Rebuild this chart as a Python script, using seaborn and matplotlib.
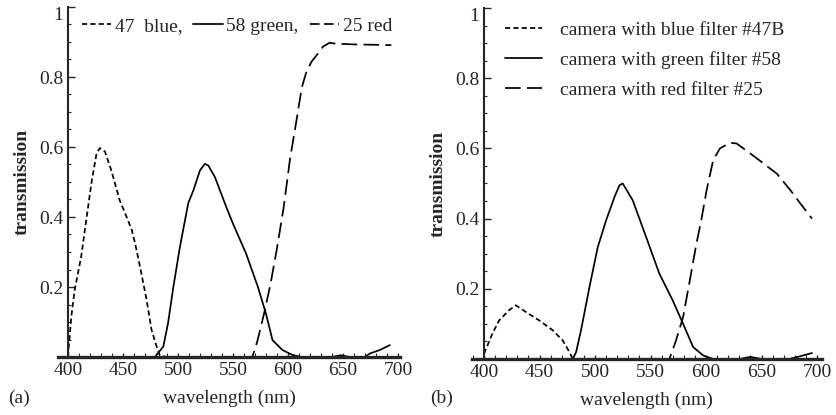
import numpy as np
import pandas as pd
import matplotlib
matplotlib.use("Agg")
import matplotlib.pyplot as plt
from matplotlib.lines import Line2D
from matplotlib.ticker import MultipleLocator, FixedLocator
import seaborn as sns

# panel (a): filter transmission
a_blue_x = [400, 403, 406, 412, 417, 421.5, 426, 429, 433.6, 439.7, 447, 452, 458, 461, 465.5,
            471.5, 476, 480.6, 483.6, 490, 550, 650, 695]
a_blue_y = [0.0, 0.115, 0.19, 0.287, 0.40, 0.501, 0.582, 0.597, 0.587, 0.53, 0.448, 0.41, 0.363,
            0.325, 0.258, 0.163, 0.077, 0.030, 0.004, 0.0, 0.0, 0.0, 0.0]

a_green_x = [400, 450, 479, 486.7, 491, 495.8, 501.8, 509.4, 514, 520, 524.5, 527.6, 533.6, 544,
             550, 562, 572.7, 580, 586, 595, 604, 612, 640, 648, 656, 670, 674.5, 683.6, 692.7]
a_green_y = [0.0, 0.0, 0.0, 0.030, 0.097, 0.20, 0.315, 0.44, 0.476, 0.533, 0.552, 0.547, 0.514,
             0.428, 0.381, 0.295, 0.20, 0.124, 0.048, 0.02, 0.006, 0.0, 0.0, 0.005, 0.0, 0.0,
             0.01, 0.02, 0.034]

a_red_x = [400, 480, 555, 567.6, 572, 578, 584, 590, 596, 602, 608, 612.6, 617, 621.5, 627.6,
           632, 638, 641, 660, 680, 694]
a_red_y = [0.0, 0.0, 0.0, 0.0, 0.043, 0.12, 0.206, 0.31, 0.425, 0.568, 0.68, 0.77, 0.817, 0.844,
           0.868, 0.887, 0.898, 0.896, 0.893, 0.892, 0.891]

# panel (b): camera x filter
b_blue_x = [400, 407.5, 413.6, 422.6, 428.6, 437.7, 449.7, 461.8, 470.9, 476.9, 480, 500, 600, 695]
b_blue_y = [0.015, 0.072, 0.11, 0.139, 0.153, 0.134, 0.11, 0.082, 0.053, 0.02, 0.0, 0.0, 0.0, 0.0]

b_green_x = [400, 450, 480, 483, 487.4, 495, 502.5, 510, 517.6, 522, 525, 534, 546, 558, 570,
             579.4, 588.4, 597.5, 606.5, 630, 640, 650, 675, 685, 695.5]
b_green_y = [0.0, 0.0, 0.0, 0.02, 0.082, 0.205, 0.319, 0.395, 0.462, 0.495, 0.5, 0.452, 0.348,
             0.243, 0.167, 0.10, 0.034, 0.01, 0.0, 0.0, 0.006, 0.0, 0.0, 0.008, 0.017]

b_red_x = [400, 480, 567, 573, 579.4, 585.4, 591.4, 596, 600.5, 606.5, 612.6, 621.6, 627.6,
           639.7, 651.8, 663.8, 676, 685, 695.5]
b_red_y = [0.0, 0.0, 0.0, 0.053, 0.12, 0.224, 0.329, 0.40, 0.48, 0.567, 0.60, 0.616, 0.614,
           0.586, 0.557, 0.528, 0.481, 0.443, 0.40]

a_labels = ["47  blue,", "58 green,", "25 red"]
b_labels = ["camera with blue filter #47B", "camera with green filter #58",
            "camera with red filter #25"]
y_ticks = [0.2, 0.4, 0.6, 0.8, 1.0]
y_tick_labels = ["0.2", "0.4", "0.6", "0.8", "1"]
x_ticks = [400, 450, 500, 550, 600, 650, 700]

sns.set_style("ticks")
plt.rcParams["font.family"] = ["Liberation Serif", "DejaVu Serif"]

styles = [(0, (3, 1.8)), "-", (0, (9, 3.6))]
LW = 1.25
FS = 14

fig = plt.figure(figsize=(8.37, 4.15), dpi=100)
ax_a = fig.add_axes([58.1 / 837, 58 / 415, 342 / 837, 350 / 415])
ax_b = fig.add_axes([471.8 / 837, 56 / 415, 350.2 / 837, 351 / 415])


def draw_panel(ax, series, xlim, tag, tag_x):
    for (xs, ys), ls in zip(series, styles):
        df = pd.DataFrame({"wavelength": xs, "transmission": ys})
        sns.lineplot(data=df, x="wavelength", y="transmission", ax=ax, color="black",
                     linestyle=ls, linewidth=LW, clip_on=False, estimator=None, sort=False)
    ax.set_xlim(*xlim)
    ax.set_ylim(0, 1.0)
    sns.despine(ax=ax)
    ax.spines["left"].set_position(("data", 400))
    ax.spines["left"].set_linewidth(1.5)
    ax.spines["bottom"].set_linewidth(2.4)
    ax.xaxis.set_major_locator(FixedLocator(x_ticks))
    ax.xaxis.set_minor_locator(MultipleLocator(10))
    ax.set_yticks(y_ticks)
    ax.set_yticklabels(y_tick_labels)
    ax.yaxis.set_minor_locator(MultipleLocator(0.05))
    ax.tick_params(axis="both", which="major", direction="in", length=5, width=1.0,
                   labelsize=FS, pad=3.5)
    ax.tick_params(axis="both", which="minor", direction="in", length=2.5, width=0.8)
    ax.tick_params(axis="x", which="both", length=3)
    ax.get_yticklabels()[-1].set_va("top")
    ax.set_xlabel("wavelength (nm)", fontsize=FS, labelpad=8)
    ax.set_ylabel("transmission", fontsize=FS, fontweight="bold", labelpad=6)
    fig.text(tag_x, 17 / 415, tag, fontsize=FS, ha="left", va="center")


draw_panel(ax_a, [(a_blue_x, a_blue_y), (a_green_x, a_green_y), (a_red_x, a_red_y)],
           (391, 702), "(a)", 8 / 837)
draw_panel(ax_b, [(b_blue_x, b_blue_y), (b_green_x, b_green_y), (b_red_x, b_red_y)],
           (389, 704.5), "(b)", 430 / 837)

# the inline key of panel (a) uses shorter samples, so the long dash gets a tighter pattern
a_handles = [Line2D([], [], color="black", linestyle=ls, linewidth=LW)
             for ls in [styles[0], styles[1], (0, (5.5, 2.6))]]
b_handles = [Line2D([], [], color="black", linestyle=ls, linewidth=LW) for ls in styles]

ax_a.legend(a_handles, a_labels, ncol=3, loc="center left", bbox_to_anchor=(0.07, 0.945),
            frameon=False, fontsize=FS, borderpad=0, borderaxespad=0, handlelength=1.5,
            handletextpad=0.2, columnspacing=0.55)
ax_b.legend(b_handles, b_labels, loc="upper left", bbox_to_anchor=(0.095, 0.962),
            frameon=False, fontsize=FS, borderpad=0, borderaxespad=0, handlelength=1.9,
            handletextpad=0.9, labelspacing=0.62)

fig.savefig("out.png", dpi=100)
